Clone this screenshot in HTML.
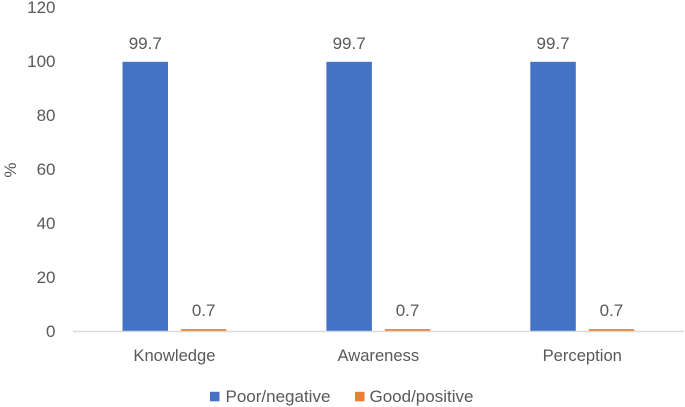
<!DOCTYPE html>
<html>
<head>
<meta charset="utf-8">
<style>
html,body{margin:0;padding:0;background:#fff;width:685px;height:407px;overflow:hidden}
svg{display:block;font-family:"Liberation Sans",sans-serif;filter:blur(0.3px)}
text{fill:#595959;font-size:17px}
text.cat{font-size:16.6px}
</style>
</head>
<body>
<svg id="chart" width="685" height="407" viewBox="0 0 685 407" xmlns="http://www.w3.org/2000/svg"></svg>
<script>
const categories = ["Knowledge", "Awareness", "Perception"];
const poorNegative = [99.7, 99.7, 99.7];
const goodPositive = [0.7, 0.7, 0.7];
const valueLabelsPoor = ["99.7", "99.7", "99.7"];
const valueLabelsGood = ["0.7", "0.7", "0.7"];
const yTicks = [0, 20, 40, 60, 80, 100, 120];

const svg = document.getElementById('chart');
const NS = 'http://www.w3.org/2000/svg';
const plotLeft = 72.5, plotRight = 684, y0 = 331, pxPerUnit = 2.7;
const catWidth = 203.9, barWidth = 45.5, barOffset = 29.2;

function yScale(v) { return y0 - v * pxPerUnit; }
function xCenter(i) { return plotLeft + catWidth * (i + 0.5); }
function make(tag, attrs, txt) {
  const el = document.createElementNS(NS, tag);
  for (const k in attrs) el.setAttribute(k, attrs[k]);
  if (txt !== undefined) el.textContent = txt;
  svg.appendChild(el);
  return el;
}

yTicks.forEach(function (t) {
  const el = make('text', { x: 55.5, y: yScale(t) + 6, 'text-anchor': 'end' }, String(t));
  
  
});

const title = make('text', { transform: 'translate(16,170) rotate(-90)', 'text-anchor': 'middle' }, '%');



categories.forEach(function (c, i) {
  const cx = xCenter(i);

  const pv = poorNegative[i];
  const bar = make('rect', { x: cx - barOffset - barWidth / 2, y: yScale(pv), width: barWidth, height: y0 - yScale(pv), fill: '#4472c4' });
  
  

  const gv = goodPositive[i];
  const bar2 = make('rect', { x: cx + barOffset - barWidth / 2, y: yScale(gv), width: barWidth, height: y0 - yScale(gv), fill: '#ed7d31' });
  
  

  const l1 = make('text', { x: cx - barOffset, y: yScale(pv) - 13, 'text-anchor': 'middle' }, valueLabelsPoor[i]);
  
  

  const l2 = make('text', { x: cx + barOffset, y: yScale(gv) - 13, 'text-anchor': 'middle' }, valueLabelsGood[i]);
  
  

  const cl = make('text', { x: cx, y: 361, 'text-anchor': 'middle', 'class': 'cat' }, c);
  
  
});

const axis = make('line', { x1: 73, x2: plotRight, y1: y0 + 0.5, y2: y0 + 0.5, stroke: '#d9d9d9', 'stroke-width': 1.5 });



const sw1 = make('rect', { x: 210, y: 391.8, width: 9.5, height: 9.5, fill: '#4472c4' });


const lt1 = make('text', { x: 225.5, y: 402 }, 'Poor/negative');



const sw2 = make('rect', { x: 355, y: 391.8, width: 9.5, height: 9.5, fill: '#ed7d31' });


const lt2 = make('text', { x: 369.5, y: 402 }, 'Good/positive');


</script>
</body>
</html>
